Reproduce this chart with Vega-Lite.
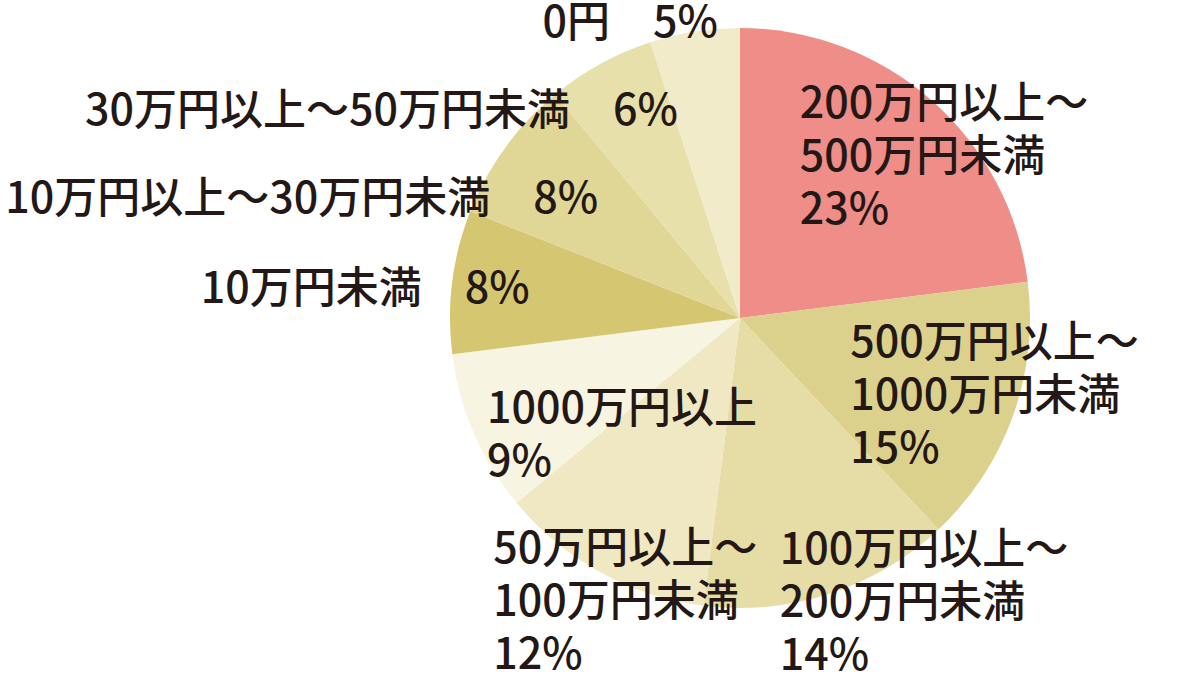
{
  "$schema": "https://vega.github.io/schema/vega-lite/v6.json",
  "width": 580,
  "height": 580,
  "autosize": "none",
  "padding": {"left": 450, "top": 28, "right": 170, "bottom": 72},
  "background": "white",
  "data": {
    "values": [
      {"cat": "200万円以上～500万円未満", "label": "200万円以上～\n500万円未満\n23%", "pct": 23, "order": 1},
      {"cat": "500万円以上～1000万円未満", "label": "500万円以上～\n1000万円未満\n15%", "pct": 15, "order": 2},
      {"cat": "100万円以上～200万円未満", "label": "100万円以上～\n200万円未満\n14%", "pct": 14, "order": 3},
      {"cat": "50万円以上～100万円未満", "label": "50万円以上～\n100万円未満\n12%", "pct": 12, "order": 4},
      {"cat": "1000万円以上", "label": "1000万円以上\n9%", "pct": 9, "order": 5},
      {"cat": "10万円未満", "label": "10万円未満　8%", "pct": 8, "order": 6},
      {"cat": "10万円以上～30万円未満", "label": "10万円以上～30万円未満　8%", "pct": 8, "order": 7},
      {"cat": "30万円以上～50万円未満", "label": "30万円以上～50万円未満　6%", "pct": 6, "order": 8},
      {"cat": "0円", "label": "0円　5%", "pct": 5, "order": 9}
    ]
  },
  "transform": [
    {"window": [{"op": "sum", "field": "pct", "as": "cum"}], "sort": [{"field": "order"}], "frame": [null, 0]},
    {"calculate": "datum.cum - datum.pct / 2", "as": "mid"}
  ],
  "encoding": {
    "theta": {"field": "mid", "type": "quantitative", "stack": null, "scale": {"domain": [0, 100]}}
  },
  "layer": [
    {
      "mark": {"type": "arc", "radius": 290},
      "encoding": {
        "theta": {"field": "pct", "type": "quantitative", "stack": true, "scale": {"domain": [0, 100]}},
        "order": {"field": "order", "type": "quantitative"},
        "color": {
          "field": "cat",
          "type": "nominal",
          "legend": null,
          "scale": {
            "domain": ["200万円以上～500万円未満", "500万円以上～1000万円未満", "100万円以上～200万円未満", "50万円以上～100万円未満", "1000万円以上", "10万円未満", "10万円以上～30万円未満", "30万円以上～50万円未満", "0円"],
            "range": ["#EF8E88", "#DCD18C", "#E5DCA6", "#EFE8C3", "#F8F4E2", "#D5C772", "#E0D696", "#E8E0AB", "#F2EBCA"]
          }
        }
      }
    },
    {
      "transform": [{"filter": "datum.order == 1"}],
      "mark": {"type": "text", "radius": 160, "align": "left", "baseline": "middle", "dx": -46, "dy": -93, "lineBreak": "\n", "lineHeight": 53, "font": "Noto Sans CJK JP", "fontSize": 43, "fontWeight": 500, "color": "#231815"},
      "encoding": {"text": {"field": "label"}}
    },
    {
      "transform": [{"filter": "datum.order == 2"}],
      "mark": {"type": "text", "radius": 130, "align": "left", "baseline": "middle", "dx": -12, "dy": -18, "lineBreak": "\n", "lineHeight": 53, "font": "Noto Sans CJK JP", "fontSize": 43, "fontWeight": 500, "color": "#231815"},
      "encoding": {"text": {"field": "label"}}
    },
    {
      "transform": [{"filter": "datum.order == 3"}],
      "mark": {"type": "text", "radius": 284, "align": "left", "baseline": "middle", "dx": -48, "dy": -37, "lineBreak": "\n", "lineHeight": 53, "font": "Noto Sans CJK JP", "fontSize": 43, "fontWeight": 500, "color": "#231815"},
      "encoding": {"text": {"field": "label"}}
    },
    {
      "transform": [{"filter": "datum.order == 4"}],
      "mark": {"type": "text", "radius": 369, "align": "left", "baseline": "middle", "dx": -69, "dy": -91, "lineBreak": "\n", "lineHeight": 53, "font": "Noto Sans CJK JP", "fontSize": 43, "fontWeight": 500, "color": "#231815"},
      "encoding": {"text": {"field": "label"}}
    },
    {
      "transform": [{"filter": "datum.order == 5"}],
      "mark": {"type": "text", "radius": 279, "align": "left", "baseline": "middle", "dx": 3, "dy": -19, "lineBreak": "\n", "lineHeight": 53, "font": "Noto Sans CJK JP", "fontSize": 43, "fontWeight": 500, "color": "#231815"},
      "encoding": {"text": {"field": "label"}}
    },
    {
      "transform": [{"filter": "datum.order == 6"}],
      "mark": {"type": "text", "radius": 212, "align": "right", "baseline": "middle", "dx": 0, "dy": -1, "font": "Noto Sans CJK JP", "fontSize": 43, "fontWeight": 500, "color": "#231815"},
      "encoding": {"text": {"field": "label"}}
    },
    {
      "transform": [{"filter": "datum.order == 7"}],
      "mark": {"type": "text", "radius": 184, "align": "right", "baseline": "middle", "dx": 7, "dy": -10, "font": "Noto Sans CJK JP", "fontSize": 43, "fontWeight": 500, "color": "#231815"},
      "encoding": {"text": {"field": "label"}}
    },
    {
      "transform": [{"filter": "datum.order == 8"}],
      "mark": {"type": "text", "radius": 210, "align": "right", "baseline": "middle", "dx": 39, "dy": -22, "font": "Noto Sans CJK JP", "fontSize": 43, "fontWeight": 500, "color": "#231815"},
      "encoding": {"text": {"field": "label"}}
    },
    {
      "transform": [{"filter": "datum.order == 9"}],
      "mark": {"type": "text", "radius": 294, "align": "right", "baseline": "middle", "dx": 24, "dy": -4, "font": "Noto Sans CJK JP", "fontSize": 43, "fontWeight": 500, "color": "#231815"},
      "encoding": {"text": {"field": "label"}}
    }
  ],
  "config": {"view": {"stroke": null}}
}
